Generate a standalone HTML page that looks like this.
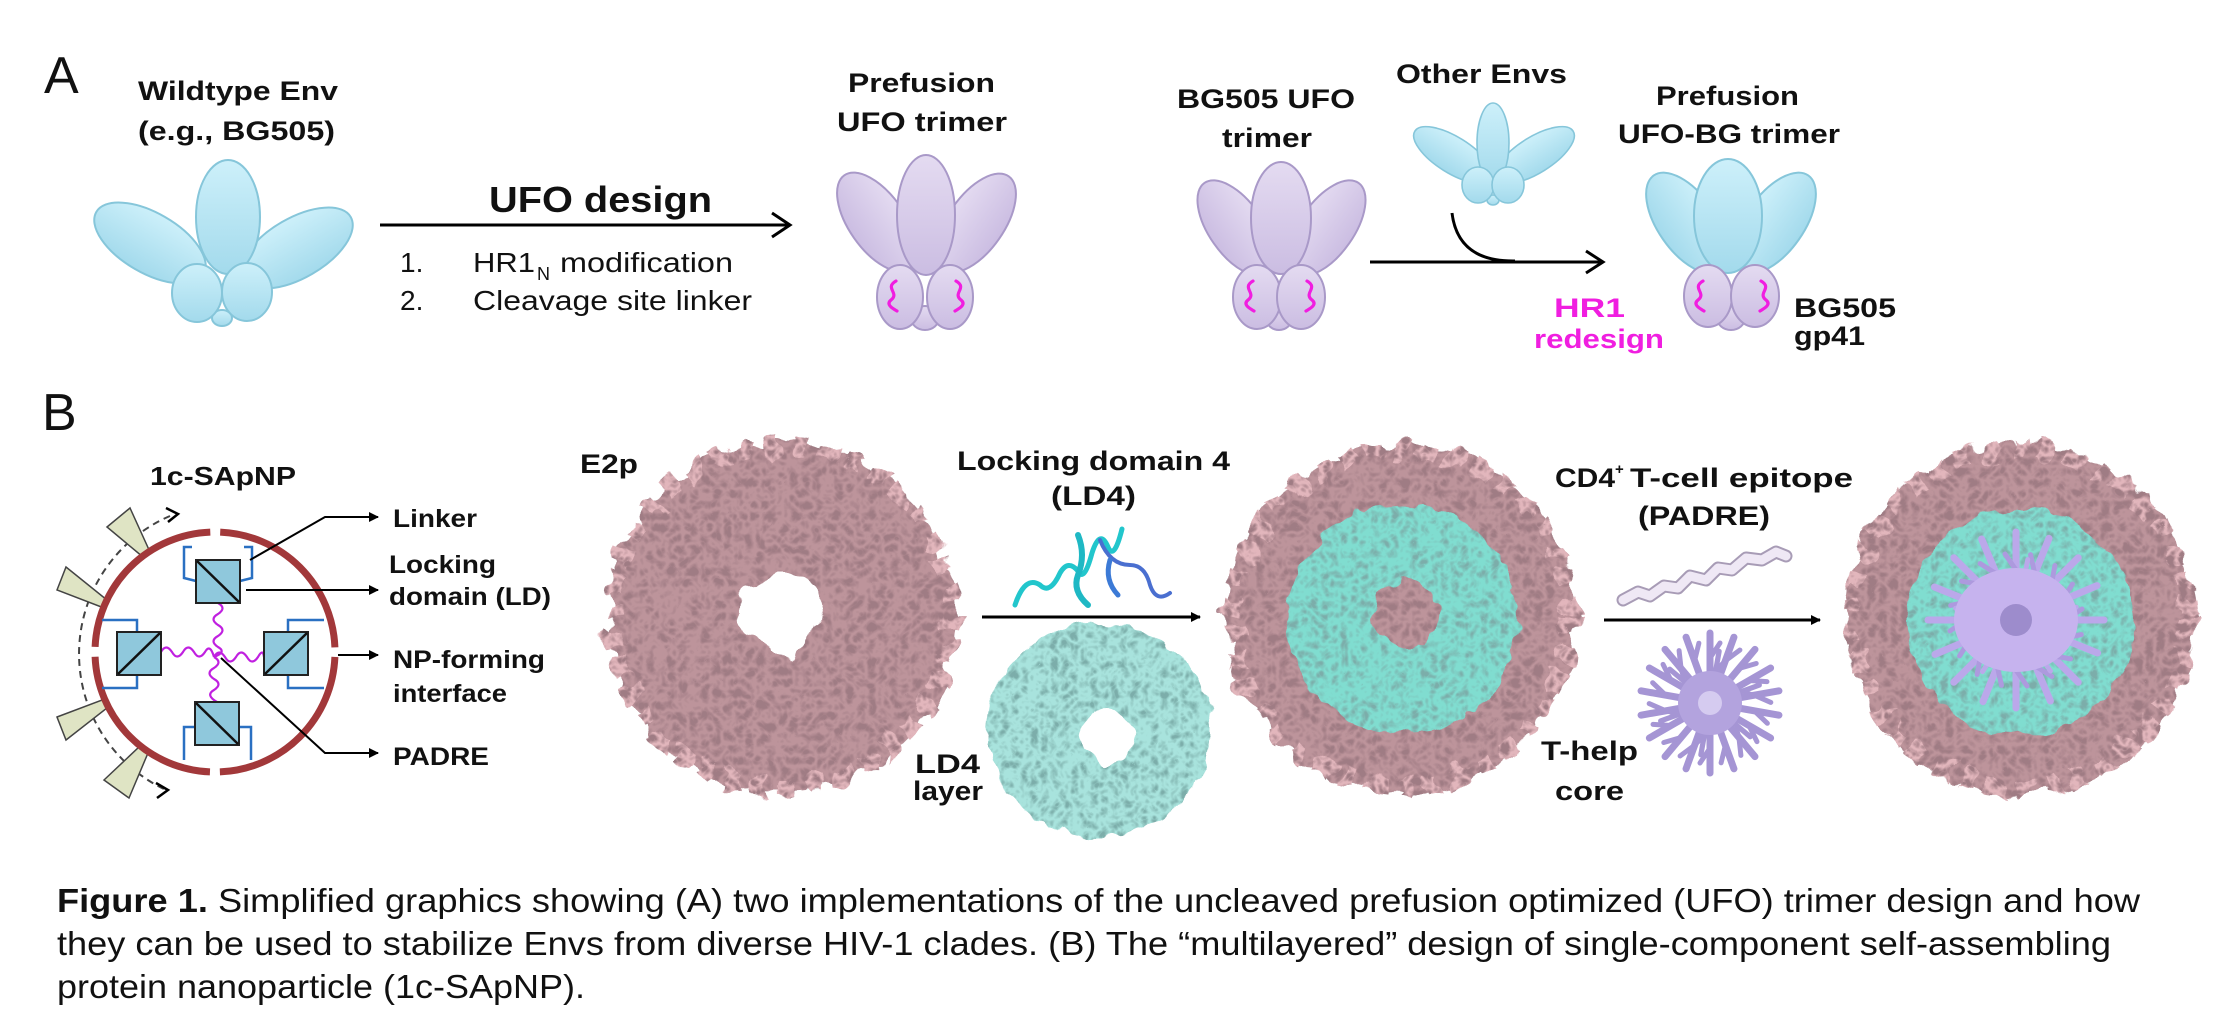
<!DOCTYPE html>
<html><head><meta charset="utf-8"><style>
html,body{margin:0;padding:0;background:#fff;}
svg{display:block;}
text{font-family:"Liberation Sans",Arial,sans-serif;fill:#111;}
.b{font-weight:bold;}
</style></head><body>
<svg width="2236" height="1032" viewBox="0 0 2236 1032" xmlns="http://www.w3.org/2000/svg">
<defs>
 <linearGradient id="gb" x1="0" y1="0" x2="0" y2="1"><stop offset="0" stop-color="#cdf0fa"/><stop offset="1" stop-color="#a3daec"/></linearGradient>
 <linearGradient id="gp" x1="0" y1="0" x2="0" y2="1"><stop offset="0" stop-color="#e4dbf1"/><stop offset="1" stop-color="#cbbde2"/></linearGradient>
 <filter id="npPink" x="-15%" y="-15%" width="130%" height="130%">
  <feTurbulence type="fractalNoise" baseFrequency="0.04" numOctaves="2" seed="2" result="t1"/>
  <feDisplacementMap in="SourceGraphic" in2="t1" scale="26" xChannelSelector="R" yChannelSelector="G" result="d"/>
  <feTurbulence type="turbulence" baseFrequency="0.09" numOctaves="2" seed="5" result="t2"/>
  <feColorMatrix in="t2" type="matrix" values="0 0 0 0 0.35 0 0 0 0 0.2 0 0 0 0 0.23 2.6 0 0 0 -0.3" result="s"/>
  <feComposite in="s" in2="d" operator="atop"/>
 </filter>
 <filter id="npCyan" x="-15%" y="-15%" width="130%" height="130%">
  <feTurbulence type="fractalNoise" baseFrequency="0.05" numOctaves="2" seed="7" result="t1"/>
  <feDisplacementMap in="SourceGraphic" in2="t1" scale="18" xChannelSelector="R" yChannelSelector="G" result="d"/>
  <feTurbulence type="turbulence" baseFrequency="0.1" numOctaves="2" seed="9" result="t2"/>
  <feColorMatrix in="t2" type="matrix" values="0 0 0 0 0.2 0 0 0 0 0.42 0 0 0 0 0.4 2.2 0 0 0 -0.3" result="s"/>
  <feComposite in="s" in2="d" operator="atop"/>
 </filter>
 <path id="sq" d="M3,-15 C-9,-8 7,-3 -2,4 C-8,9 1,13 4,15" fill="none" stroke="#f01ee0" stroke-width="3.2" stroke-linecap="round"/>
 <g id="spk"><line x1="0" y1="0" x2="0" y2="-70" stroke="#a595d4" stroke-width="7" stroke-linecap="round"/><line x1="0" y1="-45" x2="10" y2="-60" stroke="#a595d4" stroke-width="5" stroke-linecap="round"/></g>
 <g id="spk2"><line x1="0" y1="0" x2="0" y2="-88" stroke="#bba8ea" stroke-width="7" stroke-linecap="round"/><line x1="0" y1="-50" x2="-11" y2="-66" stroke="#ad9ade" stroke-width="5" stroke-linecap="round"/></g>
 <marker id="ah" viewBox="0 0 10 10" refX="9" refY="5" markerWidth="10" markerHeight="10" markerUnits="userSpaceOnUse" orient="auto"><path d="M0,0 L10,5 L0,10 z" fill="#000"/></marker>
</defs>

<text x="44" y="93" font-size="52">A</text>
<text class="b" x="138" y="100" font-size="27" textLength="200" lengthAdjust="spacingAndGlyphs">Wildtype Env</text>
<text class="b" x="138" y="140" font-size="27" textLength="197" lengthAdjust="spacingAndGlyphs">(e.g., BG505)</text>

<g fill="url(#gb)" stroke="#86c6da" stroke-width="2">
 <ellipse cx="150" cy="243" rx="62" ry="30" transform="rotate(30 150 243)"/>
 <ellipse cx="297" cy="248" rx="62" ry="30" transform="rotate(-30 297 248)"/>
 <ellipse cx="228" cy="217" rx="32" ry="57"/>
 <ellipse cx="222" cy="318" rx="10" ry="8"/>
 <ellipse cx="197" cy="293" rx="25" ry="29"/>
 <ellipse cx="247" cy="292" rx="25" ry="29"/>
</g>

<line x1="380" y1="225" x2="789" y2="225" stroke="#000" stroke-width="3"/>
<path d="M772,213 L790,225 L772,237" fill="none" stroke="#000" stroke-width="3"/>
<text class="b" x="489" y="212" font-size="36" textLength="223" lengthAdjust="spacingAndGlyphs">UFO design</text>
<text x="400" y="272" font-size="28">1.</text>
<text x="473" y="272" font-size="28" textLength="62" lengthAdjust="spacingAndGlyphs">HR1</text>
<text x="537" y="280" font-size="18">N</text>
<text x="560" y="272" font-size="28" textLength="173" lengthAdjust="spacingAndGlyphs">modification</text>
<text x="400" y="310" font-size="28">2.</text>
<text x="473" y="310" font-size="28" textLength="279" lengthAdjust="spacingAndGlyphs">Cleavage site linker</text>

<text class="b" x="848" y="92" font-size="27" textLength="147" lengthAdjust="spacingAndGlyphs">Prefusion</text>
<text class="b" x="837" y="131" font-size="27" textLength="170" lengthAdjust="spacingAndGlyphs">UFO trimer</text>
<g fill="url(#gp)" stroke="#a999c8" stroke-width="2">
 <ellipse cx="877" cy="222" rx="57" ry="28" transform="rotate(55 877 222)"/>
 <ellipse cx="976" cy="223" rx="57" ry="28" transform="rotate(-55 976 223)"/>
 <ellipse cx="926" cy="215" rx="29" ry="60"/>
 <ellipse cx="925" cy="318" rx="14" ry="12"/>
 <ellipse cx="900" cy="297" rx="23" ry="32"/>
 <ellipse cx="950" cy="297" rx="23" ry="32"/>
</g>
<use href="#sq" transform="translate(893,296)"/>
<use href="#sq" transform="translate(959,296) scale(-1,1)"/>

<text class="b" x="1177" y="108" font-size="27" textLength="178" lengthAdjust="spacingAndGlyphs">BG505 UFO</text>
<text class="b" x="1222" y="147" font-size="27" textLength="90" lengthAdjust="spacingAndGlyphs">trimer</text>
<g fill="url(#gp)" stroke="#a999c8" stroke-width="2">
 <ellipse cx="1236" cy="228" rx="55" ry="27" transform="rotate(55 1236 228)"/>
 <ellipse cx="1327" cy="228" rx="55" ry="27" transform="rotate(-55 1327 228)"/>
 <ellipse cx="1281" cy="218" rx="30" ry="56"/>
 <ellipse cx="1279" cy="318" rx="13" ry="12"/>
 <ellipse cx="1257" cy="297" rx="24" ry="32"/>
 <ellipse cx="1301" cy="297" rx="24" ry="32"/>
</g>
<use href="#sq" transform="translate(1250,296)"/>
<use href="#sq" transform="translate(1310,296) scale(-1,1)"/>

<text class="b" x="1396" y="83" font-size="27" textLength="171" lengthAdjust="spacingAndGlyphs">Other Envs</text>
<g fill="url(#gb)" stroke="#86c6da" stroke-width="1.6">
 <ellipse cx="1453" cy="155" rx="45" ry="18" transform="rotate(32 1453 155)"/>
 <ellipse cx="1535" cy="155" rx="45" ry="18" transform="rotate(-32 1535 155)"/>
 <ellipse cx="1493" cy="143" rx="16" ry="40"/>
 <ellipse cx="1493" cy="200" rx="6" ry="5"/>
 <ellipse cx="1478" cy="185" rx="16" ry="18"/>
 <ellipse cx="1508" cy="185" rx="16" ry="18"/>
</g>
<path d="M1452,213 Q1458,262 1515,261" fill="none" stroke="#000" stroke-width="3"/>
<line x1="1370" y1="262" x2="1602" y2="262" stroke="#000" stroke-width="3"/>
<path d="M1586,251 L1603,262 L1586,273" fill="none" stroke="#000" stroke-width="3"/>
<text class="b" x="1554" y="317" font-size="27" style="fill:#f01ee0" textLength="71" lengthAdjust="spacingAndGlyphs">HR1</text>
<text class="b" x="1534" y="348" font-size="27" style="fill:#f01ee0" textLength="130" lengthAdjust="spacingAndGlyphs">redesign</text>

<text class="b" x="1656" y="105" font-size="27" textLength="143" lengthAdjust="spacingAndGlyphs">Prefusion</text>
<text class="b" x="1618" y="143" font-size="27" textLength="222" lengthAdjust="spacingAndGlyphs">UFO-BG trimer</text>
<g fill="url(#gb)" stroke="#86c6da" stroke-width="2">
 <ellipse cx="1687" cy="223" rx="58" ry="29" transform="rotate(55 1687 223)"/>
 <ellipse cx="1775" cy="223" rx="58" ry="29" transform="rotate(-55 1775 223)"/>
 <ellipse cx="1728" cy="216" rx="34" ry="57"/>
</g>
<g fill="url(#gp)" stroke="#a999c8" stroke-width="2">
 <ellipse cx="1731" cy="318" rx="14" ry="12"/>
 <ellipse cx="1708" cy="296" rx="24" ry="31"/>
 <ellipse cx="1755" cy="296" rx="24" ry="31"/>
</g>
<use href="#sq" transform="translate(1700,296)"/>
<use href="#sq" transform="translate(1764,296) scale(-1,1)"/>
<text class="b" x="1794" y="317" font-size="27" textLength="102" lengthAdjust="spacingAndGlyphs">BG505</text>
<text class="b" x="1794" y="345" font-size="27" textLength="71" lengthAdjust="spacingAndGlyphs">gp41</text>

<text x="42" y="430" font-size="52">B</text>
<text class="b" x="150" y="485" font-size="26" textLength="146" lengthAdjust="spacingAndGlyphs">1c-SApNP</text>

<path d="M170,516 A150,150 0 0 0 166,790" fill="none" stroke="#444" stroke-width="2" stroke-dasharray="7 5"/>
<path d="M166,508 L178,514 L168,522" fill="none" stroke="#000" stroke-width="2.5"/>
<path d="M156,783 L168,790 L157,798" fill="none" stroke="#000" stroke-width="2.5"/>
<g fill="#dfe4c4" stroke="#444" stroke-width="1.5">
 <polygon points="107,527 130,508 150,552 143,557"/>
 <polygon points="57,590 66,567 107,600 104,608"/>
 <polygon points="57,717 102,700 107,708 66,740"/>
 <polygon points="104,780 139,747 148,753 129,798"/>
</g>
<circle cx="215" cy="652" r="120" fill="none" stroke="#a2383a" stroke-width="7" stroke-dasharray="178.5 10" stroke-dashoffset="183.5"/>
<g fill="none" stroke="#2a70c2" stroke-width="2.5">
 <path d="M192,547 L184,547 L184,578 L196,581"/>
 <path d="M244,547 L252,547 L252,578 L240,581"/>
 <path d="M102,620 L137,620 L137,632"/>
 <path d="M102,688 L137,688 L137,675"/>
 <path d="M324,620 L288,620 L288,632"/>
 <path d="M324,688 L288,688 L288,675"/>
 <path d="M195,727 L184,727 L184,760"/>
 <path d="M239,727 L251,727 L251,760"/>
</g>
<g fill="none" stroke="#c020e0" stroke-width="2.2">
 <path d="M218,603 q9,5 0,11 q-9,5 0,11 q9,5 0,11 q-9,5 0,11 q9,5 -4,10"/>
 <path d="M214,657 q9,5 0,11 q-9,5 0,11 q9,5 0,11 q-9,5 3,12"/>
 <path d="M161,652 q5,-9 11,0 q5,9 11,0 q5,-9 11,0 q5,9 11,0 q5,-9 9,5"/>
 <path d="M214,657 q5,-9 11,0 q5,9 11,0 q5,-9 11,0 q5,9 11,0 q5,-9 6,0"/>
</g>
<g fill="#8fc8dc" stroke="#222" stroke-width="2">
 <rect x="196" y="560" width="44" height="43"/>
 <rect x="117" y="632" width="44" height="43"/>
 <rect x="264" y="632" width="44" height="43"/>
 <rect x="195" y="702" width="44" height="43"/>
</g>
<g stroke="#111" stroke-width="2.5">
 <line x1="197" y1="561" x2="239" y2="602"/>
 <line x1="118" y1="674" x2="160" y2="633"/>
 <line x1="265" y1="674" x2="307" y2="633"/>
 <line x1="196" y1="703" x2="238" y2="744"/>
</g>
<g fill="none" stroke="#000" stroke-width="2" marker-end="url(#ah)">
 <path d="M250,560 L325,517 L378,517"/>
 <path d="M246,590 L378,590"/>
 <path d="M338,655 L378,655"/>
 <path d="M221,658 L325,753 L378,753"/>
</g>
<text class="b" x="393" y="527" font-size="25" textLength="84" lengthAdjust="spacingAndGlyphs">Linker</text>
<text class="b" x="389" y="573" font-size="25" textLength="107" lengthAdjust="spacingAndGlyphs">Locking</text>
<text class="b" x="389" y="605" font-size="25" textLength="162" lengthAdjust="spacingAndGlyphs">domain (LD)</text>
<text class="b" x="393" y="668" font-size="25" textLength="152" lengthAdjust="spacingAndGlyphs">NP-forming</text>
<text class="b" x="393" y="702" font-size="25" textLength="114" lengthAdjust="spacingAndGlyphs">interface</text>
<text class="b" x="393" y="765" font-size="25" textLength="96" lengthAdjust="spacingAndGlyphs">PADRE</text>

<text class="b" x="580" y="473" font-size="27" textLength="58" lengthAdjust="spacingAndGlyphs">E2p</text>
<g filter="url(#npPink)">
 <path d="M782,443 a174,174 0 1 0 0.1,0 z M781,573 a40,40 0 1 1 -0.1,0 z" fill="#bd949b" fill-rule="evenodd"/>
 <circle cx="782" cy="617" r="170" fill="none" stroke="#e2b6bc" stroke-width="18" stroke-dasharray="16 12"/>
</g>

<text class="b" x="957" y="470" font-size="27" textLength="273" lengthAdjust="spacingAndGlyphs">Locking domain 4</text>
<text class="b" x="1051" y="505" font-size="27" textLength="85" lengthAdjust="spacingAndGlyphs">(LD4)</text>
<g fill="none" stroke-linecap="round">
 <path d="M1015,605 q10,-30 25,-20 q10,10 20,-12 q8,-14 18,-2 q6,12 14,-18 q8,-25 16,-6 q6,14 14,-18" stroke="#22c6cc" stroke-width="5"/>
 <path d="M1078,535 q8,20 0,40 q-6,16 10,30" stroke="#1fb8c4" stroke-width="6"/>
 <path d="M1100,540 q10,25 30,25 q15,0 20,20 q6,18 20,8" stroke="#4a6fd0" stroke-width="4"/>
 <path d="M1110,560 q-6,20 8,35" stroke="#3c7ad6" stroke-width="5"/>
</g>
<line x1="982" y1="617" x2="1200" y2="617" stroke="#000" stroke-width="3" marker-end="url(#ah)"/>
<g filter="url(#npCyan)">
 <path d="M1099,622 a112,108 0 1 0 0.1,0 z M1107,710 a27,27 0 1 1 -0.1,0 z" fill="#a8e3dd" fill-rule="evenodd"/>
</g>
<text class="b" x="915" y="773" font-size="27" textLength="65" lengthAdjust="spacingAndGlyphs">LD4</text>
<text class="b" x="913" y="800" font-size="27" textLength="70" lengthAdjust="spacingAndGlyphs">layer</text>

<g filter="url(#npPink)">
 <circle cx="1401" cy="618" r="174" fill="#bd949b"/>
 <circle cx="1401" cy="618" r="168" fill="none" stroke="#e2b6bc" stroke-width="18" stroke-dasharray="16 12"/>
</g>
<g filter="url(#npCyan)">
 <path d="M1403,505 a115,115 0 1 0 0.1,0 z M1406,580 a33,33 0 1 1 -0.1,0 z" fill="#80ddd0" fill-rule="evenodd"/>
</g>

<text class="b" x="1555" y="487" font-size="27" textLength="60" lengthAdjust="spacingAndGlyphs">CD4</text>
<text class="b" x="1615" y="474" font-size="15">+</text>
<text class="b" x="1630" y="487" font-size="27" textLength="223" lengthAdjust="spacingAndGlyphs">T-cell epitope</text>
<text class="b" x="1638" y="525" font-size="27" textLength="132" lengthAdjust="spacingAndGlyphs">(PADRE)</text>
<path d="M1623,600 l15,-8 l12,4 l14,-10 l14,2 l12,-12 l16,4 l12,-12 l14,2 l14,-12 l16,2 l14,-8 l10,4" fill="none" stroke="#a89cb6" stroke-width="13" stroke-linejoin="round" stroke-linecap="round"/>
<path d="M1623,600 l15,-8 l12,4 l14,-10 l14,2 l12,-12 l16,4 l12,-12 l14,2 l14,-12 l16,2 l14,-8 l10,4" fill="none" stroke="#efe8f5" stroke-width="9" stroke-linejoin="round" stroke-linecap="round"/>
<line x1="1604" y1="620" x2="1820" y2="620" stroke="#000" stroke-width="3" marker-end="url(#ah)"/>
<g transform="translate(1710,703)">
 <use href="#spk" transform="rotate(0)"/><use href="#spk" transform="rotate(20)"/><use href="#spk" transform="rotate(40)"/><use href="#spk" transform="rotate(60)"/><use href="#spk" transform="rotate(80)"/><use href="#spk" transform="rotate(100)"/><use href="#spk" transform="rotate(120)"/><use href="#spk" transform="rotate(140)"/><use href="#spk" transform="rotate(160)"/><use href="#spk" transform="rotate(180)"/><use href="#spk" transform="rotate(200)"/><use href="#spk" transform="rotate(220)"/><use href="#spk" transform="rotate(240)"/><use href="#spk" transform="rotate(260)"/><use href="#spk" transform="rotate(280)"/><use href="#spk" transform="rotate(300)"/><use href="#spk" transform="rotate(320)"/><use href="#spk" transform="rotate(340)"/>
 <use href="#spk" transform="rotate(10) scale(0.75)"/><use href="#spk" transform="rotate(70) scale(0.75)"/><use href="#spk" transform="rotate(130) scale(0.75)"/><use href="#spk" transform="rotate(190) scale(0.75)"/><use href="#spk" transform="rotate(250) scale(0.75)"/><use href="#spk" transform="rotate(310) scale(0.75)"/>
 <circle r="32" fill="#b3a3de"/><circle r="12" fill="#d5cbf0"/>
</g>
<text class="b" x="1541" y="760" font-size="27" textLength="97" lengthAdjust="spacingAndGlyphs">T-help</text>
<text class="b" x="1555" y="800" font-size="27" textLength="69" lengthAdjust="spacingAndGlyphs">core</text>

<g filter="url(#npPink)">
 <circle cx="2020" cy="619" r="175" fill="#bd949b"/>
 <circle cx="2020" cy="619" r="168" fill="none" stroke="#e2b6bc" stroke-width="18" stroke-dasharray="16 12"/>
</g>
<g filter="url(#npCyan)">
 <circle cx="2020" cy="622" r="113" fill="#80ddd0"/>
</g>
<g transform="translate(2016,620)">
 <use href="#spk2" transform="rotate(0)"/><use href="#spk2" transform="rotate(22)"/><use href="#spk2" transform="rotate(45)"/><use href="#spk2" transform="rotate(67)"/><use href="#spk2" transform="rotate(90)"/><use href="#spk2" transform="rotate(112)"/><use href="#spk2" transform="rotate(135)"/><use href="#spk2" transform="rotate(157)"/><use href="#spk2" transform="rotate(180)"/><use href="#spk2" transform="rotate(202)"/><use href="#spk2" transform="rotate(225)"/><use href="#spk2" transform="rotate(247)"/><use href="#spk2" transform="rotate(270)"/><use href="#spk2" transform="rotate(292)"/><use href="#spk2" transform="rotate(315)"/><use href="#spk2" transform="rotate(337)"/>
 <use href="#spk2" transform="rotate(11) scale(0.7)"/><use href="#spk2" transform="rotate(78) scale(0.7)"/><use href="#spk2" transform="rotate(146) scale(0.7)"/><use href="#spk2" transform="rotate(213) scale(0.7)"/><use href="#spk2" transform="rotate(281) scale(0.7)"/>
 <ellipse rx="62" ry="52" fill="#c6b3ee"/><circle r="16" fill="#9d8ccc"/>
</g>

<text x="57" y="912" font-size="33" textLength="2083" lengthAdjust="spacingAndGlyphs"><tspan font-weight="bold">Figure 1.</tspan> Simplified graphics showing (A) two implementations of the uncleaved prefusion optimized (UFO) trimer design and how</text>
<text x="57" y="955" font-size="33" textLength="2054" lengthAdjust="spacingAndGlyphs">they can be used to stabilize Envs from diverse HIV-1 clades. (B) The “multilayered” design of single-component self-assembling</text>
<text x="57" y="998" font-size="33" textLength="528" lengthAdjust="spacingAndGlyphs">protein nanoparticle (1c-SApNP).</text>
</svg>
</body></html>
